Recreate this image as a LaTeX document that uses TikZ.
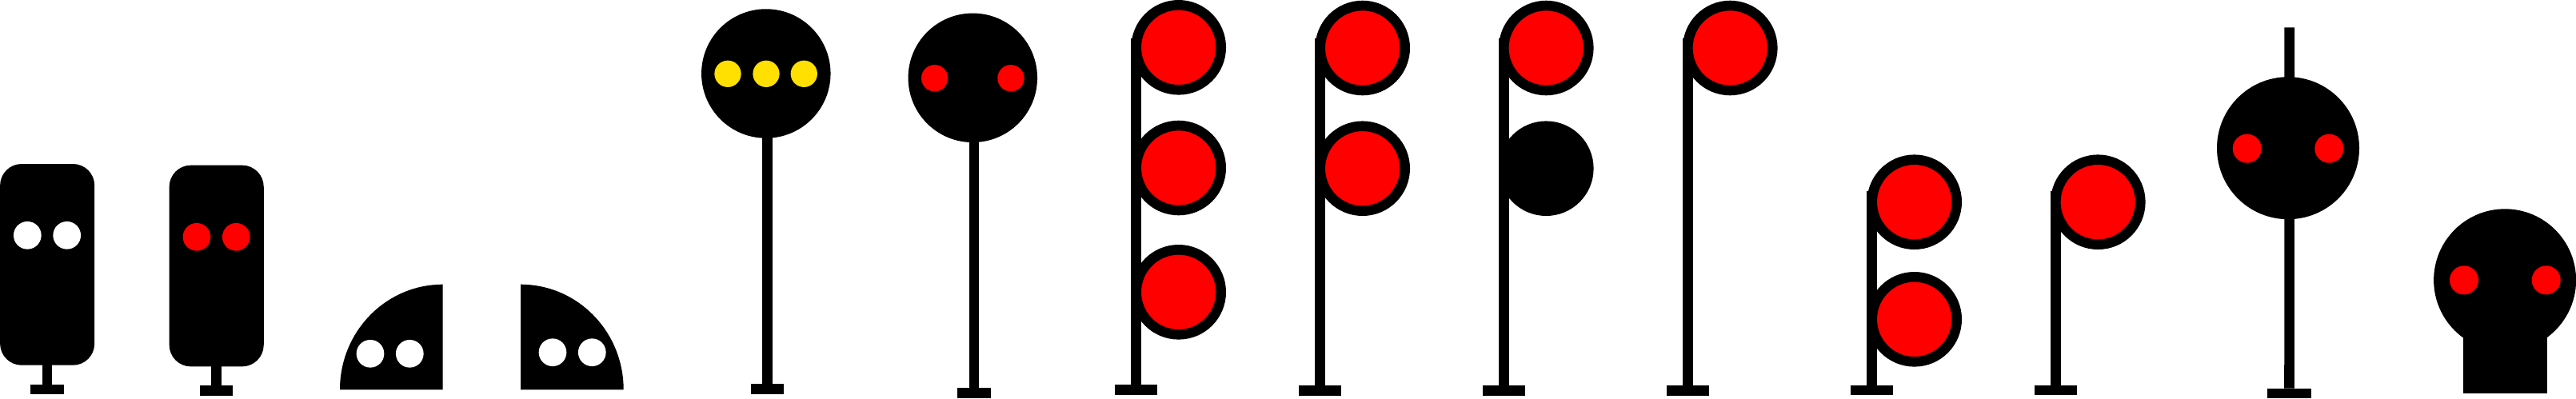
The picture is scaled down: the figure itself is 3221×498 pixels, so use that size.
\documentclass[tikz,border=0pt]{standalone}
\usepackage{tikz}
\usetikzlibrary{positioning}
\definecolor{lampyellow}{RGB}{255,224,0}

\begin{document}
\begin{tikzpicture}[
    x=0.1mm, y=-0.1mm,
    box node/.style={rectangle, fill=black, rounded corners=2.7mm, inner sep=0pt, outer sep=0pt, minimum width=11.81mm, minimum height=25.17mm},
    head node/.style={circle, fill=black, inner sep=0pt, outer sep=0pt, minimum size=16.15mm},
    big head node/.style={circle, fill=black, inner sep=0pt, outer sep=0pt, minimum size=17.8mm},
    lamp node/.style={circle, draw=black, line width=1.26mm, fill=red, inner sep=0pt, outer sep=0pt, minimum size=10.6mm},
    dark lamp node/.style={lamp node, fill=black},
    light node/.style={circle, fill=red, inner sep=0pt, outer sep=0pt, minimum size=3.47mm},
    big light node/.style={light node, minimum size=3.6mm},
    foot node/.style={rectangle, fill=black, inner sep=0pt, outer sep=0pt, minimum width=4.15mm, minimum height=1.26mm},
    wide foot node/.style={foot node, minimum width=5.27mm},
    post line/.style={line width=1.26mm, black}
]
\useasboundingbox (0,0) rectangle (3221,498);

% Box signal, white lights
\node[foot node] (foot1) at (59,487) {};
\coordinate (top1) at (59,330);
\draw[post line] (top1) -- (foot1);
\node[box node] (box1) at (59.15,330.85) {};
\node[light node, fill=white] (light1a) at (34.3,294.3) {};
\node[light node, fill=white] (light1b) at (83.7,294.3) {};

% Box signal, red lights
\node[foot node] (foot2) at (270.7,488.7) {};
\coordinate (top2) at (270.7,330);
\draw[post line] (top2) -- (foot2);
\node[box node] (box2) at (270.7,332.5) {};
\node[light node] (light2a) at (246,296.3) {};
\node[light node] (light2b) at (295.3,296.3) {};

% Quarter discs
\fill[black] (553.7,487.3) -- (425,487.3) arc[start angle=180, end angle=90, x radius=12.87mm, y radius=13.16mm] -- cycle;
\node[light node, fill=white] (light3a) at (463,442.3) {};
\node[light node, fill=white] (light3b) at (512.3,442.3) {};
\fill[black] (651,487.3) -- (779.7,487.3) arc[start angle=0, end angle=90, x radius=12.87mm, y radius=13.16mm] -- cycle;
\node[light node, fill=white] (light4a) at (691,440.7) {};
\node[light node, fill=white] (light4b) at (740.3,440.7) {};

% Round head, three yellow lights
\node[foot node] (foot5) at (959.5,486.2) {};
\coordinate (top5) at (959.5,92);
\draw[post line] (top5) -- (foot5);
\node[head node] (head5) at (957.8,92) {};
\node[light node, fill=lampyellow, minimum size=3.33mm] (light5a) at (910,92.3) {};
\node[light node, fill=lampyellow, minimum size=3.33mm] (light5b) at (958,92.3) {};
\node[light node, fill=lampyellow, minimum size=3.33mm] (light5c) at (1005.3,92.3) {};

% Round head, two red lights
\node[foot node] (foot6) at (1217.8,491.3) {};
\coordinate (top6) at (1217.8,97);
\draw[post line] (top6) -- (foot6);
\node[head node] (head6) at (1216.3,97.3) {};
\node[light node, minimum size=3.33mm] (light6a) at (1168.7,97.7) {};
\node[light node, minimum size=3.33mm] (light6b) at (1264,97.7) {};

% Three lamps
\node[wide foot node] (foot7) at (1420.7,487.5) {};
\coordinate (top7) at (1420.7,48.3);
\draw[post line] (top7) -- (foot7);
\node[lamp node] (lamp7a) at (1473.7,59.3) {};
\node[lamp node] (lamp7b) at (1473.7,210) {};
\node[lamp node] (lamp7c) at (1473.7,365.3) {};

% Two lamps
\node[wide foot node] (foot8) at (1650.7,488.2) {};
\coordinate (top8) at (1650.7,48.3);
\draw[post line] (top8) -- (foot8);
\node[lamp node] (lamp8a) at (1703.7,60) {};
\node[lamp node] (lamp8b) at (1703.7,210.7) {};

% Red lamp over dark lamp
\node[wide foot node] (foot9) at (1880.5,488.2) {};
\coordinate (top9) at (1880.5,48.3);
\draw[post line] (top9) -- (foot9);
\node[lamp node] (lamp9a) at (1933.3,60) {};
\node[dark lamp node] (lamp9b) at (1933.3,210.7) {};

% One lamp
\node[wide foot node] (foot10) at (2110.5,488.2) {};
\coordinate (top10) at (2110.5,48.3);
\draw[post line] (top10) -- (foot10);
\node[lamp node] (lamp10a) at (2163.3,60) {};

% Low post, two lamps
\node[wide foot node] (foot11) at (2340.3,487.9) {};
\coordinate (top11) at (2340.3,239);
\draw[post line] (top11) -- (foot11);
\node[lamp node] (lamp11a) at (2393.7,252.7) {};
\node[lamp node] (lamp11b) at (2393.7,399.3) {};

% Low post, one lamp
\node[wide foot node] (foot12) at (2570.3,487.9) {};
\coordinate (top12) at (2570.3,239);
\draw[post line] (top12) -- (foot12);
\node[lamp node] (lamp12a) at (2623.3,252.7) {};

% Post through the head
\node[wide foot node, minimum width=5.5mm] (foot13) at (2862.5,492) {};
\coordinate (top13) at (2862.7,34.3);
\draw[post line] (top13) -- (foot13);
\node[big head node] (head13) at (2861,185.2) {};
\node[big light node] (light13a) at (2809.7,185.7) {};
\node[big light node] (light13b) at (2912.3,185.7) {};

% Head on a block
\node[rectangle, fill=black, inner sep=0pt, outer sep=0pt, minimum width=10.47mm, minimum height=15.23mm] (block14) at (3132.3,416.15) {};
\node[big head node] (head14) at (3132.1,350.3) {};
\node[big light node] (light14a) at (3081,350.3) {};
\node[big light node] (light14b) at (3183.7,350.3) {};
\end{tikzpicture}
\end{document}
